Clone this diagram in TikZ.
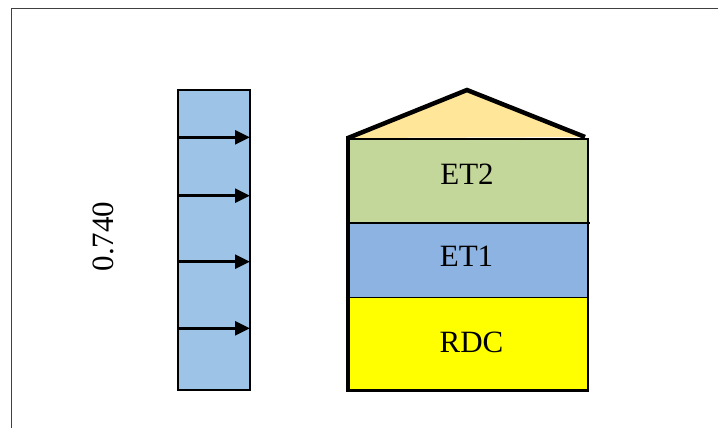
\documentclass[tikz,border=0pt]{standalone}
\usepackage{fontspec}
\setmainfont{Liberation Serif}
\usetikzlibrary{arrows.meta}
\definecolor{colblue}{HTML}{9DC3E6}
\definecolor{roofc}{HTML}{FFE699}
\definecolor{greenf}{HTML}{C4D79B}
\definecolor{bluef}{HTML}{8DB3E2}
\definecolor{yellowf}{HTML}{FFFF00}
\definecolor{framec}{HTML}{404040}
\tikzset{
  lbl/.style={inner sep=0pt, font=\fontsize{31}{37}\selectfont},
  windarrow/.style={line width=2.6pt, -{Triangle[length=15pt,width=14pt]}},
}
\begin{document}
\begin{tikzpicture}[x=1pt,y=-1pt]
\useasboundingbox (0,0) rectangle (718,428);
\fill[white] (0,0) rectangle (718,428);
% frame
\draw[framec, line width=1.4pt] (11.5,428) -- (11.5,8.5) -- (718,8.5);
% wind column
\draw[fill=colblue, line width=1.1pt] (178,90) rectangle (250,390);
\foreach \yy [count=\i] in {137.3,195.7,261.7,328.3}{
  \coordinate (wa\i) at (178,\yy);
  \coordinate (wb\i) at (250,\yy);
  \draw[windarrow] (wa\i) -- (wb\i);
}
% roof
\fill[roofc] (348,138) -- (467,90) -- (585,137) -- cycle;
\draw[line width=4.5pt, line join=miter] (348,138) -- (467,90) -- (585,137);
% floors
\fill[greenf] (349,139) rectangle (588,223);
\fill[bluef] (349,223) rectangle (588,297);
\fill[yellowf] (349,297) rectangle (588,390);
\draw[line width=2.2pt] (347,139) -- (589,139);
\draw[line width=2.2pt] (347,223) -- (590,223);
\draw[line width=1pt] (349,297) -- (588,297);
\draw[line width=2.6pt] (588,138) -- (588,391.5);
\draw[line width=3pt] (346.5,390) -- (589,390);
\draw[line width=3.8pt] (348,136) -- (348,391.8);
% labels
\node[lbl] (et2) at (467,174) {ET2};
\node[lbl] (et1) at (466.5,256) {ET1};
\node[lbl] (rdc) at (471.5,342.5) {RDC};
\node[lbl, rotate=90] (val) at (103,236.5) {0.740};
\end{tikzpicture}
\end{document}
